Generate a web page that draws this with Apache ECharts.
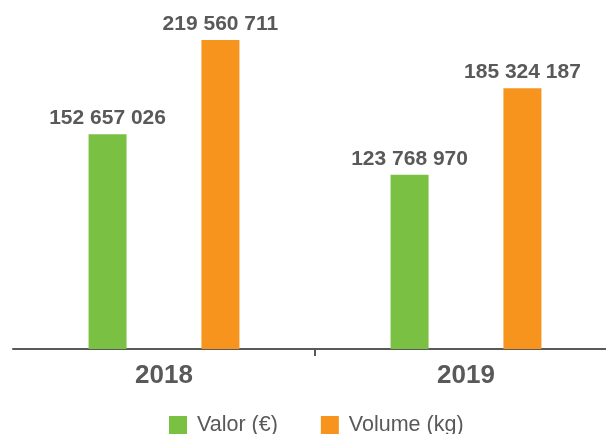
<!DOCTYPE html>
<html>
<head>
<meta charset="utf-8">
<script src="https://cdn.jsdelivr.net/npm/echarts@6/dist/echarts.min.js"></script>
<style>
  html, body { margin: 0; padding: 0; background: #fff; width: 606px; height: 434px; overflow: hidden; }
  /* a bit wider than the window so the axis runs off the right edge */
  #chart { width: 620px; height: 434px; }
</style>
</head>
<body>
<div id="chart"></div>
<script>
// data
const anos = ['2018', '2019']
const valorEur = [152657026, 123768970]
const volumeKg = [219560711, 185324187]
const nomes = ['Valor (€)', 'Volume (kg)']

const cinza = '#595959'
const fonte = '"Liberation Sans", Arial, sans-serif'

// 152657026 -> "152 657 026"
const fmt = v => String(v).replace(/\B(?=(\d{3})+(?!\d))/g, ' ')

const chart = echarts.init(document.getElementById('chart'), null, { renderer: 'canvas' })

const labelStyle = {
  show: true,
  position: 'top',
  distance: 5,
  color: cinza,
  fontSize: 21,
  fontWeight: 'bold',
  fontFamily: fonte,
  formatter: p => fmt(p.value),
}

chart.setOption({
  backgroundColor: '#fff',
  animation: false,
  textStyle: { fontFamily: fonte },
  grid: { left: 13, right: 3, top: 40, bottom: 85, containLabel: false },
  legend: {
    left: 164,
    top: 409,
    icon: 'rect',
    itemWidth: 18,
    itemHeight: 18,
    itemGap: 43,
    textStyle: { color: cinza, fontSize: 21.5, fontFamily: fonte, padding: [0, 0, 0, 5] },
    data: nomes,
  },
  xAxis: [
    {
      type: 'category',
      data: anos,
      axisLine: { lineStyle: { color: cinza, width: 2 } },
      axisTick: { show: false },
      axisLabel: { color: cinza, fontSize: 26, fontWeight: 'bold', fontFamily: fonte, margin: 14 },
    },
    {
      // only here for the single tick between the two years
      type: 'category',
      position: 'bottom',
      boundaryGap: false,
      data: ['', '', ''],
      axisLine: { show: false },
      axisLabel: { show: false },
      axisTick: { show: true, length: 7, interval: i => i === 1, lineStyle: { color: cinza, width: 2 } },
    },
  ],
  yAxis: {
    type: 'value',
    min: 0,
    max: 'dataMax',
    show: false,
    splitLine: { show: false },
  },
  series: [
    {
      name: nomes[0],
      type: 'bar',
      data: valorEur,
      barWidth: 38,
      barGap: '197%',
      itemStyle: { color: '#7ac143' },
      label: labelStyle,
    },
    {
      name: nomes[1],
      type: 'bar',
      data: volumeKg,
      barWidth: 38,
      itemStyle: { color: '#f7941d' },
      label: labelStyle,
    },
  ],
})
</script>
</body>
</html>
